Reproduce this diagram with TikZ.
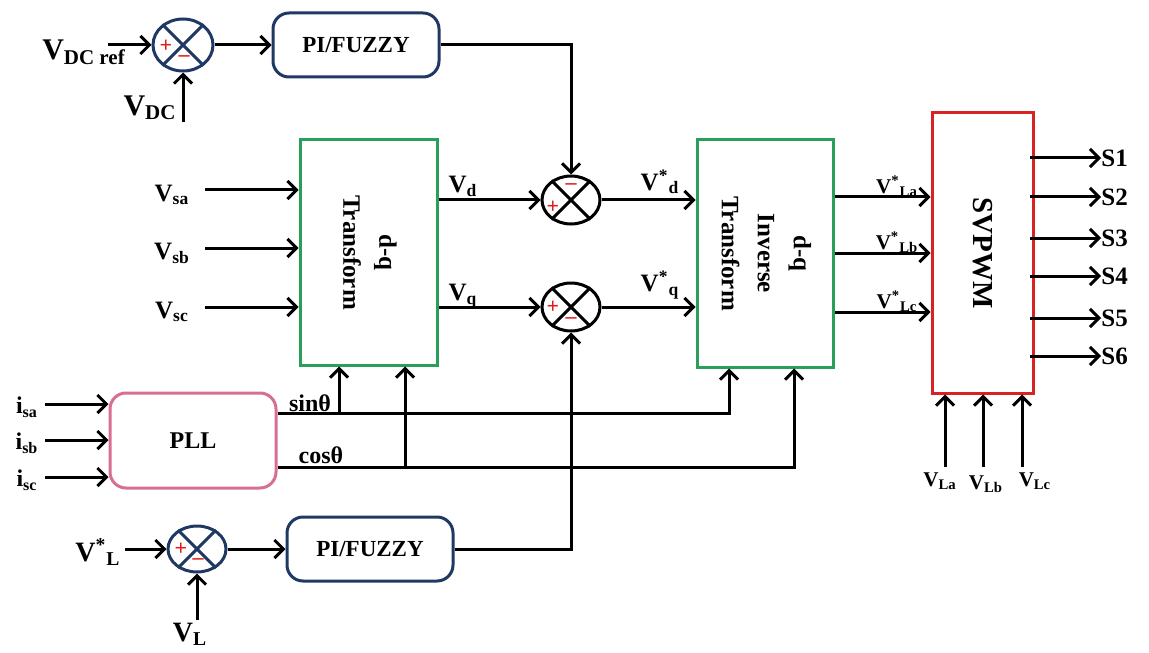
\documentclass[tikz,border=0pt]{standalone}
\usepackage{fontspec}
\usepackage{graphicx}
\setmainfont{Liberation Serif}
\usetikzlibrary{arrows.meta,shapes.geometric}
\definecolor{navy}{RGB}{31,56,100}
\definecolor{grn}{RGB}{40,160,90}
\definecolor{redb}{RGB}{215,35,35}
\definecolor{pinkb}{RGB}{215,110,150}
\definecolor{sgn}{RGB}{225,30,30}
\newcommand{\fs}[1]{\fontsize{#1}{#1}\selectfont}
\begin{document}
\begin{tikzpicture}[x=0.5pt,y=-0.5pt,
  wire/.style={line width=1.5pt},
  arr/.style={wire,-{Straight Barb[length=4.5pt,width=9pt,line width=1.5pt]}},
  sumj/.style={ellipse,draw,line width=1.5pt,minimum width=29pt,minimum height=24pt,inner sep=0pt},
  pibox/.style={draw=navy,line width=1.5pt,rounded corners=8pt,font=\bfseries\fs{11.5},minimum width=83pt,minimum height=32pt},
  gbox/.style={draw=grn,line width=1.5pt,inner sep=0pt},
  lbl/.style={font=\bfseries\fs{12.5},inner sep=0pt},
  sml/.style={font=\bfseries\fs{10.5},inner sep=0pt},
  sg/.style={text=sgn,font=\bfseries\fs{11},inner sep=0pt}
]
\useasboundingbox (0,0) rectangle (1149,652);

% ---------- blocks ----------
\node[pibox] (pi1) at (356,45) {PI/FUZZY};
\node[pibox] (pi2) at (370,549) {PI/FUZZY};
\node[gbox,minimum width=68.5pt,minimum height=112.5pt] (dq) at (368.5,252.5)
  {\rotatebox{-90}{\bfseries\fontsize{12.5}{18}\selectfont\begin{tabular}{@{}c@{}}d-q\\Transform\end{tabular}}};
\node[gbox,minimum width=68pt,minimum height=113.5pt] (inv) at (765,253.5)
  {\rotatebox{-90}{\bfseries\fontsize{12.5}{18}\selectfont\begin{tabular}{@{}c@{}}d-q\\Inverse\\Transform\end{tabular}}};
\node[draw=redb,line width=1.5pt,minimum width=50.5pt,minimum height=140pt,inner sep=0pt] (svp) at (982.5,253)
  {\rotatebox{-90}{\bfseries\fs{14.5}SVPWM}};
\node[draw=pinkb,line width=1.5pt,rounded corners=8pt,minimum width=83pt,minimum height=47.5pt,font=\bfseries\fs{12}] (pll) at (193,440.5) {PLL};

% ---------- summing junctions ----------
\node[sumj,draw=navy,minimum width=30pt,minimum height=26pt] (s1) at (183,45) {};
\node[sumj] (s2) at (571,200) {};
\node[sumj] (s3) at (571,307) {};
\node[sumj,draw=navy,minimum height=23pt] (s4) at (197,549) {};
\foreach \s/\c in {s1/navy,s2/black,s3/black,s4/navy}{
  \draw[line width=1.5pt,\c] (\s.135) -- (\s.-45);
  \draw[line width=1.5pt,\c] (\s.45) -- (\s.-135);
}
\node[sg] (p1) at (166,46) {+};  \node[sg] (m1) at (184,59) {\textendash};
\node[sg] (p2) at (553,207) {+}; \node[sg] (m2) at (571,187) {\textendash};
\node[sg] (p3) at (553,307) {+}; \node[sg] (m3) at (571,321) {\textendash};
\node[sg] (p4) at (181,549) {+}; \node[sg] (m4) at (198,562) {\textendash};

% ---------- top loop ----------
\coordinate (vdcrefin) at (108,45);
\coordinate (vdcin) at (183,122);
\node[font=\bfseries\fs{15},inner sep=0pt] (lvdcref) at (84,52) {V\textsubscript{DC ref}};
\node[font=\bfseries\fs{15},inner sep=0pt] (lvdc) at (150,108) {V\textsubscript{DC}};
\draw[arr] (vdcrefin) -- (s1);
\draw[arr] (vdcin) -- (s1);
\draw[arr] (s1) -- (pi1);
\draw[arr] (pi1.east) -| (s2);

% ---------- dq inputs ----------
\foreach \n/\y/\t in {a/190/sa,b/248/sb,c/307/sc}{
  \coordinate (v\n) at (205,\y);
  \node[lbl] (lv\n) at (172,\y+5) {V\textsubscript{\t}};
  \draw[arr] (v\n) -- (v\n -| dq.west);
}
\draw[arr] (dq.east |- s2) -- (s2);
\draw[arr] (dq.east |- s3) -- (s3);
\node[lbl] (lvd) at (463,186) {V\textsubscript{d}};
\node[lbl] (lvq) at (463,296) {V\textsubscript{q}};
\draw[arr] (s2) -- (s2 -| inv.west);
\draw[arr] (s3) -- (s3 -| inv.west);
\node[lbl] (lvsd) at (660,182) {V\textsuperscript{*}\textsubscript{d}};
\node[lbl] (lvsq) at (660,285) {V\textsuperscript{*}\textsubscript{q}};

% ---------- inverse outputs ----------
\foreach \n/\y/\t in {a/197/La,b/253/Lb,c/312/Lc}{
  \coordinate (o\n) at (inv.east |- 0,\y);
  \node[sml] (lo\n) at (897,\y-11) {V\textsuperscript{*}\textsubscript{\t}};
  \draw[arr] (o\n) -- (o\n -| svp.west);
}

% ---------- SVPWM outputs ----------
\foreach \k/\y in {1/158,2/197,3/238,4/276,5/318,6/356}{
  \coordinate (so\k) at (1030,\y);
  \node[font=\bfseries\fs{12.5},inner sep=0pt,anchor=west] (ls\k) at (1101,\y) {S\k};
  \draw[arr] (so\k) -- (ls\k.west);
}
\foreach \n/\x/\t in {a/945/La,b/983/Lb,c/1022/Lc}{
  \coordinate (vl\n) at (\x,467);
  \draw[arr] (vl\n) -- (vl\n |- svp.south);
}
\node[sml] (lvla) at (940,481) {V\textsubscript{La}};
\node[sml] (lvlb) at (986,484) {V\textsubscript{Lb}};
\node[sml] (lvlc) at (1035,481) {V\textsubscript{Lc}};

% ---------- PLL ----------
\foreach \n/\y/\t in {a/404/sa,b/440/sb,c/477/sc}{
  \coordinate (i\n) at (45,\y);
  \node[font=\bfseries\fs{12},inner sep=0pt] (li\n) at (27,\y+3) {i\textsubscript{\t}};
  \draw[arr] (i\n) -- (i\n -| pll.west);
}
\coordinate (sinst) at (pll.east |- 0,413);
\coordinate (cosst) at (pll.east |- 0,467);
\coordinate (jsin) at (339,413);
\coordinate (jcos) at (405,467);
\draw[arr] (sinst) -| (inv.south -| 729,0);
\draw[arr] (cosst) -| (inv.south -| 794,0);
\draw[arr] (jsin) -- (dq.south -| jsin);
\draw[arr] (jcos) -- (dq.south -| jcos);
\node[font=\bfseries\fs{12},inner sep=0pt] (lsin) at (310,403) {sin\char"03B8};
\node[font=\bfseries\fs{12},inner sep=0pt] (lcos) at (321,455) {cos\char"03B8};

% ---------- bottom loop ----------
\coordinate (vlsin) at (125,549);
\coordinate (vlin) at (197,620);
\node[font=\bfseries\fs{14},inner sep=0pt] (lvls) at (98,552) {V\textsuperscript{*}\textsubscript{L}};
\node[font=\bfseries\fs{14},inner sep=0pt] (lvl) at (190,634) {V\textsubscript{L}};
\draw[arr] (vlsin) -- (s4);
\draw[arr] (vlin) -- (s4);
\draw[arr] (s4) -- (pi2);
\draw[arr] (pi2.east) -| (s3);
\end{tikzpicture}
\end{document}
